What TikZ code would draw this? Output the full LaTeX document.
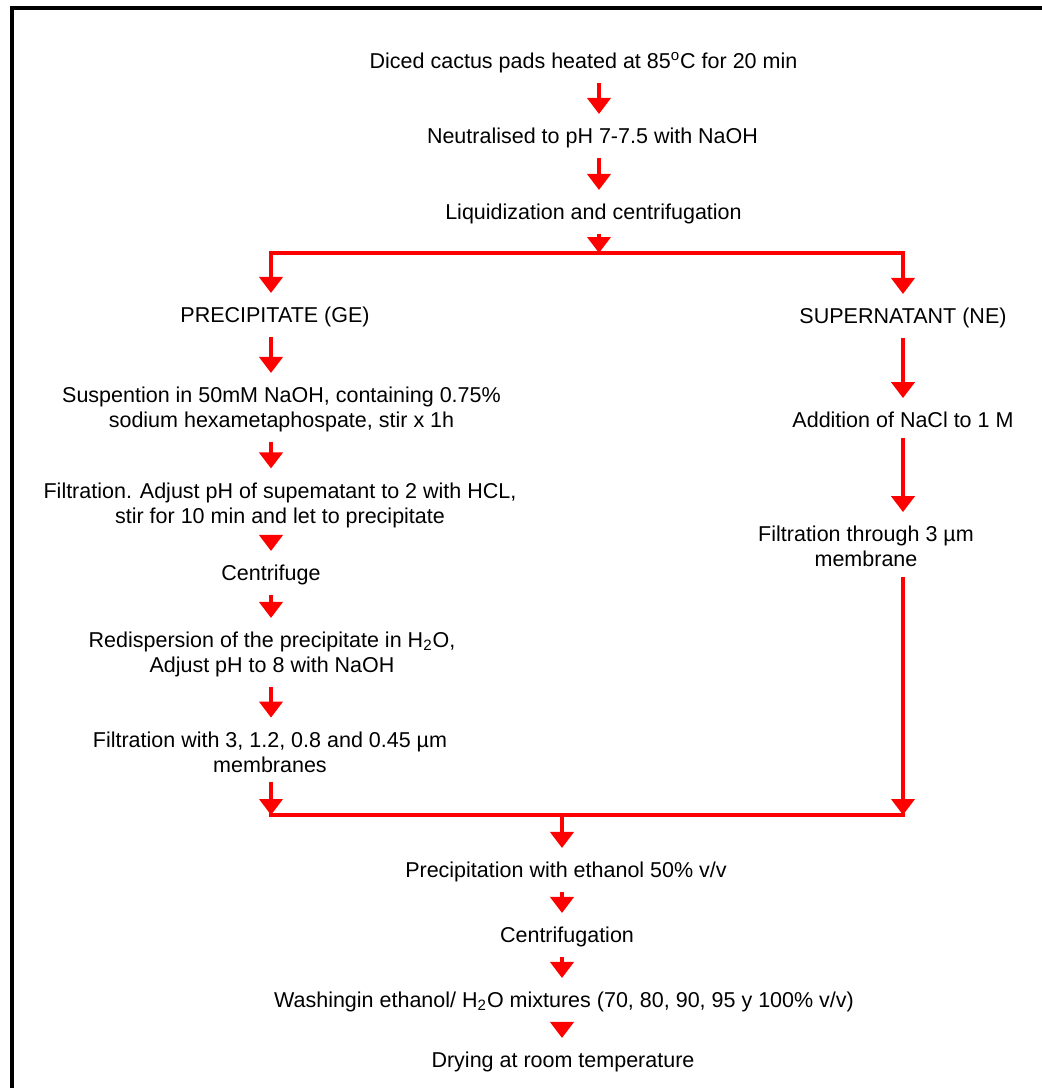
\documentclass[tikz,border=0pt]{standalone}
\usepackage{fontspec}
\setmainfont{Liberation Sans}
\usetikzlibrary{arrows.meta}
\begin{document}
\begin{tikzpicture}[x=0.5pt,y=-0.5pt]
\tikzstyle{every node}=[font=\fontsize{10.75pt}{12.5pt}\selectfont, align=center, inner xsep=0pt, inner ysep=5pt, outer sep=0pt]
\tikzstyle{flow}=[draw=red, line width=2pt, -{Triangle[width=11.5pt,length=8pt]}]
\tikzstyle{tonode}=[flow, shorten >=2pt]
\tikzstyle{bus}=[draw=red, line width=2pt, line cap=rect]
\useasboundingbox (0,0) rectangle (1042,1088);
\clip (0,0) rectangle (1042,1088);
\draw[line width=2pt] (12,7.5) rectangle (1100,1150);
\draw (583.5,63) node (diced) {Diced cactus pads heated at 85\textsuperscript{o}C for 20 min};
\draw (592.5,138) node (neutr) {Neutralised to pH 7-7.5 with NaOH};
\draw (593.5,214) node (liquid) {Liquidization and centrifugation};
\draw (275,317) node (prec) {PRECIPITATE (GE)};
\draw (903,318) node (super) {SUPERNATANT (NE)};
\draw (281.5,409.5) node (susp) {Suspention in 50mM NaOH, containing 0.75\%\\sodium hexametaphospate, stir x 1h};
\draw (903,420) node (addna) {Addition of NaCl to 1 M};
\draw (280,505) node (filt1) {Filtration. Adjust pH of supematant to 2 with HCL,\\stir for 10 min and let to precipitate};
\draw (866,546.5) node (filt3) {Filtration through 3 µm\\membrane};
\draw (271,575) node (centr) {Centrifuge};
\draw (272,654.5) node (redisp) {Redispersion of the precipitate in H\textsubscript{2}O,\\Adjust pH to 8 with NaOH};
\draw (270,752) node (filt2) {Filtration with 3, 1.2, 0.8 and 0.45 µm\\membranes};
\draw (566,872) node (precip) {Precipitation with ethanol 50\% v/v};
\draw (567,937) node (centrf) {Centrifugation};
\draw (564,1002) node (wash) {Washingin ethanol/ H\textsubscript{2}O mixtures (70, 80, 90, 95 y 100\% v/v)};
\draw (563,1062) node (dry) {Drying at room temperature};
\coordinate (top) at (599,253);
\coordinate (lft) at (271,253);
\coordinate (rgt) at (903,253);
\coordinate (lbot) at (271,815);
\coordinate (rbot) at (903,815);
\coordinate (bot) at (562,815);
\draw[tonode] (diced.south -| top) -- (neutr.north -| top);
\draw[tonode] (neutr.south -| top) -- (liquid.north -| top);
\draw[flow] (liquid.south -| top) -- (top);
\draw[tonode] (top) -| (lft |- prec.north);
\draw[tonode] (top) -| (rgt |- super.north);
\draw[tonode] (lft |- prec.south) -- (lft |- susp.north);
\draw[tonode] (lft |- susp.south) -- (lft |- filt1.north);
\draw[tonode] (lft |- filt1.south) -- (lft |- centr.north);
\draw[tonode] (lft |- centr.south) -- (lft |- redisp.north);
\draw[tonode] (lft |- redisp.south) -- (lft |- filt2.north);
\draw[flow] (lft |- filt2.south) -- (lbot);
\draw[tonode] (rgt |- super.south) -- (rgt |- addna.north);
\draw[tonode] (rgt |- addna.south) -- (rgt |- filt3.north);
\draw[flow] (rgt |- filt3.south) -- (rbot);
\draw[bus] (lbot) -- (rbot);
\draw[tonode] (bot) -- (bot |- precip.north);
\draw[tonode] (bot |- precip.south) -- (bot |- centrf.north);
\draw[tonode] (bot |- centrf.south) -- (bot |- wash.north);
\draw[tonode] (bot |- wash.south) -- (bot |- dry.north);
\end{tikzpicture}
\end{document}
